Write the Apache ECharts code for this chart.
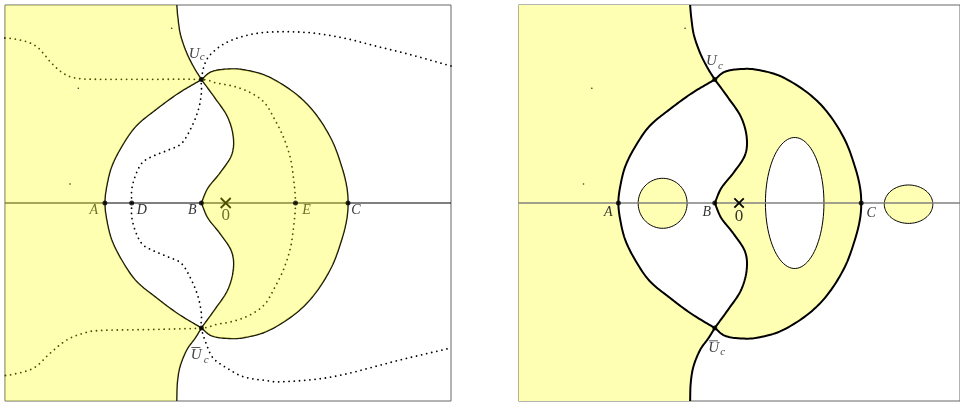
<!DOCTYPE html>
<html><head><meta charset="utf-8">
<script src="https://cdn.jsdelivr.net/npm/echarts@6.0.0/dist/echarts.min.js"></script>
<style>html,body{margin:0;padding:0;background:#fff}#c{width:960px;height:403px}</style>
</head><body><div id="c"></div>
<script>
// ---------------- data (complex-plane units) ----------------
const X_RANGE_LEFT = [-2.207, 2.253];
const X_RANGE_RIGHT = [-2.208, 2.212];
const Y_RANGE = [-1.98, 1.98];

const U_C = [-0.243, 1.235];
const U_C_BAR = [-0.243, -1.25];

const POINT_NAMES_LEFT = ['A', 'D', 'B', 'E', 'C'];
const POINT_X_LEFT = [-1.208, -0.94, -0.243, 0.698, 1.223];
const POINT_NAMES_RIGHT = ['A', 'B', 'C'];
const POINT_X_RIGHT = [-1.208, -0.243, 1.223];

const TOP_EDGE_CURVE = [[-0.49,1.98],[-0.478,1.85],[-0.452,1.68],[-0.39,1.5],[-0.315,1.35],[-0.243,1.235]];
const BOTTOM_EDGE_CURVE = [[-0.243,-1.25],[-0.307,-1.353],[-0.39,-1.47],[-0.457,-1.637],[-0.484,-1.803],[-0.49,-1.98]];

const A_ARC = [[-0.243,1.235],[-0.474,1.097],[-0.69,0.94],[-0.895,0.77],[-1.04,0.563],[-1.14,0.363],[-1.19,0.163],[-1.208,0],
  [-1.19,-0.165],[-1.14,-0.367],[-1.04,-0.57],[-0.895,-0.78],[-0.69,-0.95],[-0.474,-1.11],[-0.243,-1.25]];

const B_UPPER = [[-0.243,1.235],[-0.107,1.05],[0.018,0.863],[0.076,0.663],[0.06,0.48],[-0.057,0.30],[-0.177,0.15],[-0.243,0]];
const B_LOWER = [[-0.243,0],[-0.177,-0.152],[-0.057,-0.305],[0.06,-0.487],[0.076,-0.672],[0.018,-0.875],[-0.107,-1.063],[-0.243,-1.25]];

const OUTER_ARC = [[-0.243,1.235],[-0.14,1.313],[0.026,1.34],[0.193,1.33],[0.426,1.263],[0.693,1.097],[0.893,0.897],[1.06,0.63],[1.16,0.363],[1.21,0.163],[1.223,0],
  [1.21,-0.165],[1.16,-0.367],[1.06,-0.637],[0.893,-0.907],[0.693,-1.11],[0.426,-1.277],[0.193,-1.345],[0.026,-1.355],[-0.14,-1.328],[-0.243,-1.25]];

const DOTTED_1 = [[-2.207,1.65],[-2.157,1.647],[-1.99,1.613],[-1.89,1.563],[-1.824,1.497],[-1.74,1.397],[-1.624,1.297],[-1.49,1.247],[-1.257,1.237],[-0.757,1.237],[-0.243,1.235],
  [-0.107,1.203],[0.093,1.163],[0.26,1.097],[0.393,0.997],[0.493,0.83],[0.576,0.663],[0.643,0.463],[0.676,0.263],[0.698,0],
  [0.676,-0.265],[0.643,-0.467],[0.576,-0.67],[0.493,-0.84],[0.393,-1.01],[0.26,-1.11],[0.093,-1.178],[-0.107,-1.218],[-0.243,-1.25],
  [-0.757,-1.265],[-1.257,-1.275],[-1.424,-1.303],[-1.59,-1.37],[-1.757,-1.503],[-1.924,-1.653],[-2.157,-1.72],[-2.207,-1.725]];

const DOTTED_2 = [[2.253,1.37],[1.86,1.48],[1.526,1.563],[1.193,1.647],[0.893,1.697],[0.626,1.713],[0.36,1.703],[0.16,1.663],[-0.007,1.597],[-0.14,1.497],[-0.207,1.397],[-0.243,1.235],
  [-0.243,1.097],[-0.274,0.93],[-0.34,0.763],[-0.44,0.597],[-0.574,0.53],[-0.74,0.463],[-0.84,0.397],[-0.907,0.263],[-0.94,0.13],[-0.94,0],
  [-0.94,-0.135],[-0.907,-0.27],[-0.84,-0.405],[-0.74,-0.47],[-0.574,-0.54],[-0.44,-0.607],[-0.34,-0.775],[-0.274,-0.945],[-0.243,-1.11],[-0.243,-1.25],
  [-0.19,-1.42],[-0.124,-1.553],[0.01,-1.65],[0.176,-1.737],[0.4,-1.775],[0.576,-1.787],[1.076,-1.737],[1.743,-1.57],[2.253,-1.45]];

// right panel ovals: hole in crescent, yellow disc left, yellow oval right
const OVAL_CX = [0.557, -0.765, 1.697];
const OVAL_CY = [0, -0.003, -0.012];
const OVAL_RX = [0.293, 0.245, 0.243];
const OVAL_RY = [0.655, 0.25, 0.192];
const OVAL_YELLOW = [false, true, true];

const SPECKS_X = [-0.54, -1.474, -1.557];
const SPECKS_Y = [1.747, 1.147, 0.19];

// ---------------- rendering helpers ----------------
const FONT = 'Liberation Serif';
const YELLOW = '#ffffb3';

function smooth(p, n) {
  const out = [], L = p.length;
  const at = i => {
    if (i < 0) return [2 * p[0][0] - p[1][0], 2 * p[0][1] - p[1][1]];
    if (i > L - 1) return [2 * p[L - 1][0] - p[L - 2][0], 2 * p[L - 1][1] - p[L - 2][1]];
    return p[i];
  };
  for (let i = 0; i < L - 1; i++) {
    const p0 = at(i - 1), p1 = p[i], p2 = p[i + 1], p3 = at(i + 2);
    for (let k = 0; k < n; k++) {
      const t = k / n, t2 = t * t, t3 = t2 * t;
      const f = j => 0.5 * (2 * p1[j] + (-p0[j] + p2[j]) * t + (2 * p0[j] - 5 * p1[j] + 4 * p2[j] - p3[j]) * t2 + (-p0[j] + 3 * p1[j] - 3 * p2[j] + p3[j]) * t3);
      out.push([f(0), f(1)]);
    }
  }
  out.push(p[L - 1]);
  return out;
}
function curve(api, pts) { return smooth(pts.map(q => api.coord(q)), 12); }
function rev(a) { return a.slice().reverse(); }

function leftRegion(api, xr) {
  return [api.coord([xr[0], Y_RANGE[1]])]
    .concat(curve(api, TOP_EDGE_CURVE), curve(api, A_ARC), curve(api, BOTTOM_EDGE_CURVE))
    .concat([api.coord([xr[0], Y_RANGE[0]])]);
}
function crescent(api) {
  return curve(api, OUTER_ARC).concat(curve(api, rev(B_LOWER)), curve(api, rev(B_UPPER)));
}
function polyline(points, stroke, lw, dash) {
  const st = { stroke, lineWidth: lw, fill: 'none', lineJoin: 'round' };
  if (dash) { st.lineDash = dash; st.lineCap = 'round'; }
  return { type: 'polyline', shape: { points }, style: st };
}
function text(x, y, s, size, italic, color) {
  return { type: 'text', x, y, style: { text: s, fontSize: size, fontFamily: FONT, fontStyle: italic ? 'italic' : 'normal',
    fill: color, align: 'center', verticalAlign: 'middle' } };
}
function cross(api, half, lw) {
  const c = api.coord([0, 0]);
  return [
    { type: 'line', shape: { x1: c[0] - half, y1: c[1] - half, x2: c[0] + half, y2: c[1] + half }, style: { stroke: '#000', lineWidth: lw } },
    { type: 'line', shape: { x1: c[0] - half, y1: c[1] + half, x2: c[0] + half, y2: c[1] - half }, style: { stroke: '#000', lineWidth: lw } }
  ];
}
function ucLabels(api, o, color) {
  const a = api.coord(U_C), b = api.coord(U_C_BAR);
  return [
    text(a[0] + o.u[0], a[1] + o.u[1], 'U', 15, true, color),
    text(a[0] + o.c[0], a[1] + o.c[1], 'c', 11, true, color),
    text(b[0] + o.ub[0], b[1] + o.ub[1], 'U', 15, true, color),
    text(b[0] + o.cb[0], b[1] + o.cb[1], 'c', 11, true, color),
    { type: 'line', shape: { x1: b[0] + o.bar[0], y1: b[1] + o.bar[2], x2: b[0] + o.bar[1], y2: b[1] + o.bar[2] }, style: { stroke: color, lineWidth: 0.9 } }
  ];
}
function layer(name, gi, z, build) {
  return { type: 'custom', name, xAxisIndex: gi, yAxisIndex: gi, z, silent: true, clip: false,
    data: [[0, 0]], renderItem: (params, api) => ({ type: 'group', children: build(api) }) };
}

// ---------------- series ----------------
const series = [];
// LEFT PANEL
series.push(layer('L-lines', 0, 1, api => {
  const out = [];
  const l = api.coord([X_RANGE_LEFT[0], 0]), r = api.coord([X_RANGE_LEFT[1], 0]);
  out.push({ type: 'line', shape: { x1: l[0], y1: l[1], x2: r[0], y2: r[1] }, style: { stroke: '#000', lineWidth: 1 } });
  [DOTTED_1, DOTTED_2].forEach(c => out.push(polyline(curve(api, c), '#000', 1.8, [0.01, 5.2])));
  [TOP_EDGE_CURVE, A_ARC, BOTTOM_EDGE_CURVE, B_UPPER, B_LOWER, OUTER_ARC].forEach(c => out.push(polyline(curve(api, c), '#000', 1.4)));
  cross(api, 5, 1.8).forEach(e => out.push(e));
  const off = { A: [-11, 7], D: [10, 7], B: [-9, 7], E: [11, 7], C: [8, 7] };
  POINT_NAMES_LEFT.forEach((n, i) => {
    const p = api.coord([POINT_X_LEFT[i], 0]);
    out.push(text(p[0] + off[n][0], p[1] + off[n][1], n, 14, true, '#333'));
  });
  const o = api.coord([0, 0]);
  out.push(text(o[0], o[1] + 13, '0', 17, false, '#333'));
  ucLabels(api, { u: [-7.3, -25.3], c: [0.8, -22], ub: [-5.3, 26.7], cb: [4.8, 32], bar: [-10, -1, 19.5] }, '#444').forEach(e => out.push(e));
  return out;
}));
series.push(layer('L-fill', 0, 5, api => [
  { type: 'polygon', shape: { points: leftRegion(api, X_RANGE_LEFT) }, style: { fill: 'rgba(255,255,0,0.3)' } },
  { type: 'polygon', shape: { points: crescent(api) }, style: { fill: 'rgba(255,255,0,0.3)' } }
]));
series.push({ type: 'scatter', xAxisIndex: 0, yAxisIndex: 0, z: 6, silent: true, symbolSize: 5, itemStyle: { color: '#000' },
  data: POINT_X_LEFT.map(x => [x, 0]).concat([U_C, U_C_BAR]) });
series.push({ type: 'scatter', xAxisIndex: 0, yAxisIndex: 0, z: 6, silent: true, symbolSize: 1.6, itemStyle: { color: '#000' },
  data: SPECKS_X.map((x, i) => [x, SPECKS_Y[i]]) });

// RIGHT PANEL
series.push(layer('R-fill', 1, 1, api => [
  { type: 'polygon', shape: { points: leftRegion(api, X_RANGE_RIGHT) }, style: { fill: YELLOW } },
  { type: 'polygon', shape: { points: crescent(api) }, style: { fill: YELLOW } }
]));
series.push(layer('R-ovals', 1, 2, api => OVAL_CX.map((cx, i) => {
  const c = api.coord([cx, OVAL_CY[i]]);
  const s = api.size([OVAL_RX[i], OVAL_RY[i]]);
  const pts = [];
  for (let k = 0; k < 90; k++) { const a = k / 90 * Math.PI * 2; pts.push([c[0] + s[0] * Math.cos(a), c[1] + s[1] * Math.sin(a)]); }
  return { type: 'polygon', shape: { points: pts }, style: { fill: OVAL_YELLOW[i] ? YELLOW : '#fff', stroke: '#000', lineWidth: 1 } };
})));
series.push(layer('R-axis', 1, 3, api => {
  const l = api.coord([X_RANGE_RIGHT[0], 0]), r = api.coord([X_RANGE_RIGHT[1], 0]);
  return [{ type: 'line', shape: { x1: l[0], y1: l[1], x2: r[0], y2: r[1] }, style: { stroke: '#808080', lineWidth: 1.5 } }];
}));
series.push(layer('R-curves', 1, 4, api =>
  [TOP_EDGE_CURVE, A_ARC, BOTTOM_EDGE_CURVE, B_UPPER, B_LOWER, OUTER_ARC].map(c => polyline(curve(api, c), '#000', 2))
));
series.push(layer('R-marks', 1, 5, api => {
  const out = cross(api, 4.7, 1.8);
  const off = { A: [-10, 9], B: [-8, 9], C: [10, 10] };
  POINT_NAMES_RIGHT.forEach((n, i) => {
    const p = api.coord([POINT_X_RIGHT[i], 0]);
    out.push(text(p[0] + off[n][0], p[1] + off[n][1], n, 14, true, '#333'));
  });
  const o = api.coord([0, 0]);
  out.push(text(o[0], o[1] + 13.5, '0', 17, false, '#333'));
  ucLabels(api, { u: [-3.3, -18], c: [5.6, -13.7], ub: [-1.2, 19.8], cb: [8, 24], bar: [-5.7, 3.3, 12.8] }, '#444').forEach(e => out.push(e));
  return out;
}));
series.push({ type: 'scatter', xAxisIndex: 1, yAxisIndex: 1, z: 6, silent: true, symbolSize: 5, itemStyle: { color: '#000' },
  data: POINT_X_RIGHT.map(x => [x, 0]).concat([U_C, U_C_BAR]) });
series.push({ type: 'scatter', xAxisIndex: 1, yAxisIndex: 1, z: 6, silent: true, symbolSize: 1.6, itemStyle: { color: '#000' },
  data: SPECKS_X.map((x, i) => [x, SPECKS_Y[i]]) });

const chart = echarts.init(document.getElementById('c'), null, { renderer: 'canvas' });
chart.setOption({
  animation: false,
  backgroundColor: '#fff',
  grid: [
    { left: 5, top: 5, width: 446, height: 396, show: true, borderColor: '#666', borderWidth: 1, backgroundColor: 'transparent' },
    { left: 518.5, top: 5, width: 442, height: 396, show: true, borderColor: '#666', borderWidth: 1, backgroundColor: 'transparent' }
  ],
  xAxis: [
    { type: 'value', gridIndex: 0, min: X_RANGE_LEFT[0], max: X_RANGE_LEFT[1], show: false },
    { type: 'value', gridIndex: 1, min: X_RANGE_RIGHT[0], max: X_RANGE_RIGHT[1], show: false }
  ],
  yAxis: [
    { type: 'value', gridIndex: 0, min: Y_RANGE[0], max: Y_RANGE[1], show: false },
    { type: 'value', gridIndex: 1, min: Y_RANGE[0], max: Y_RANGE[1], show: false }
  ],
  series
});
</script>
</body></html>
